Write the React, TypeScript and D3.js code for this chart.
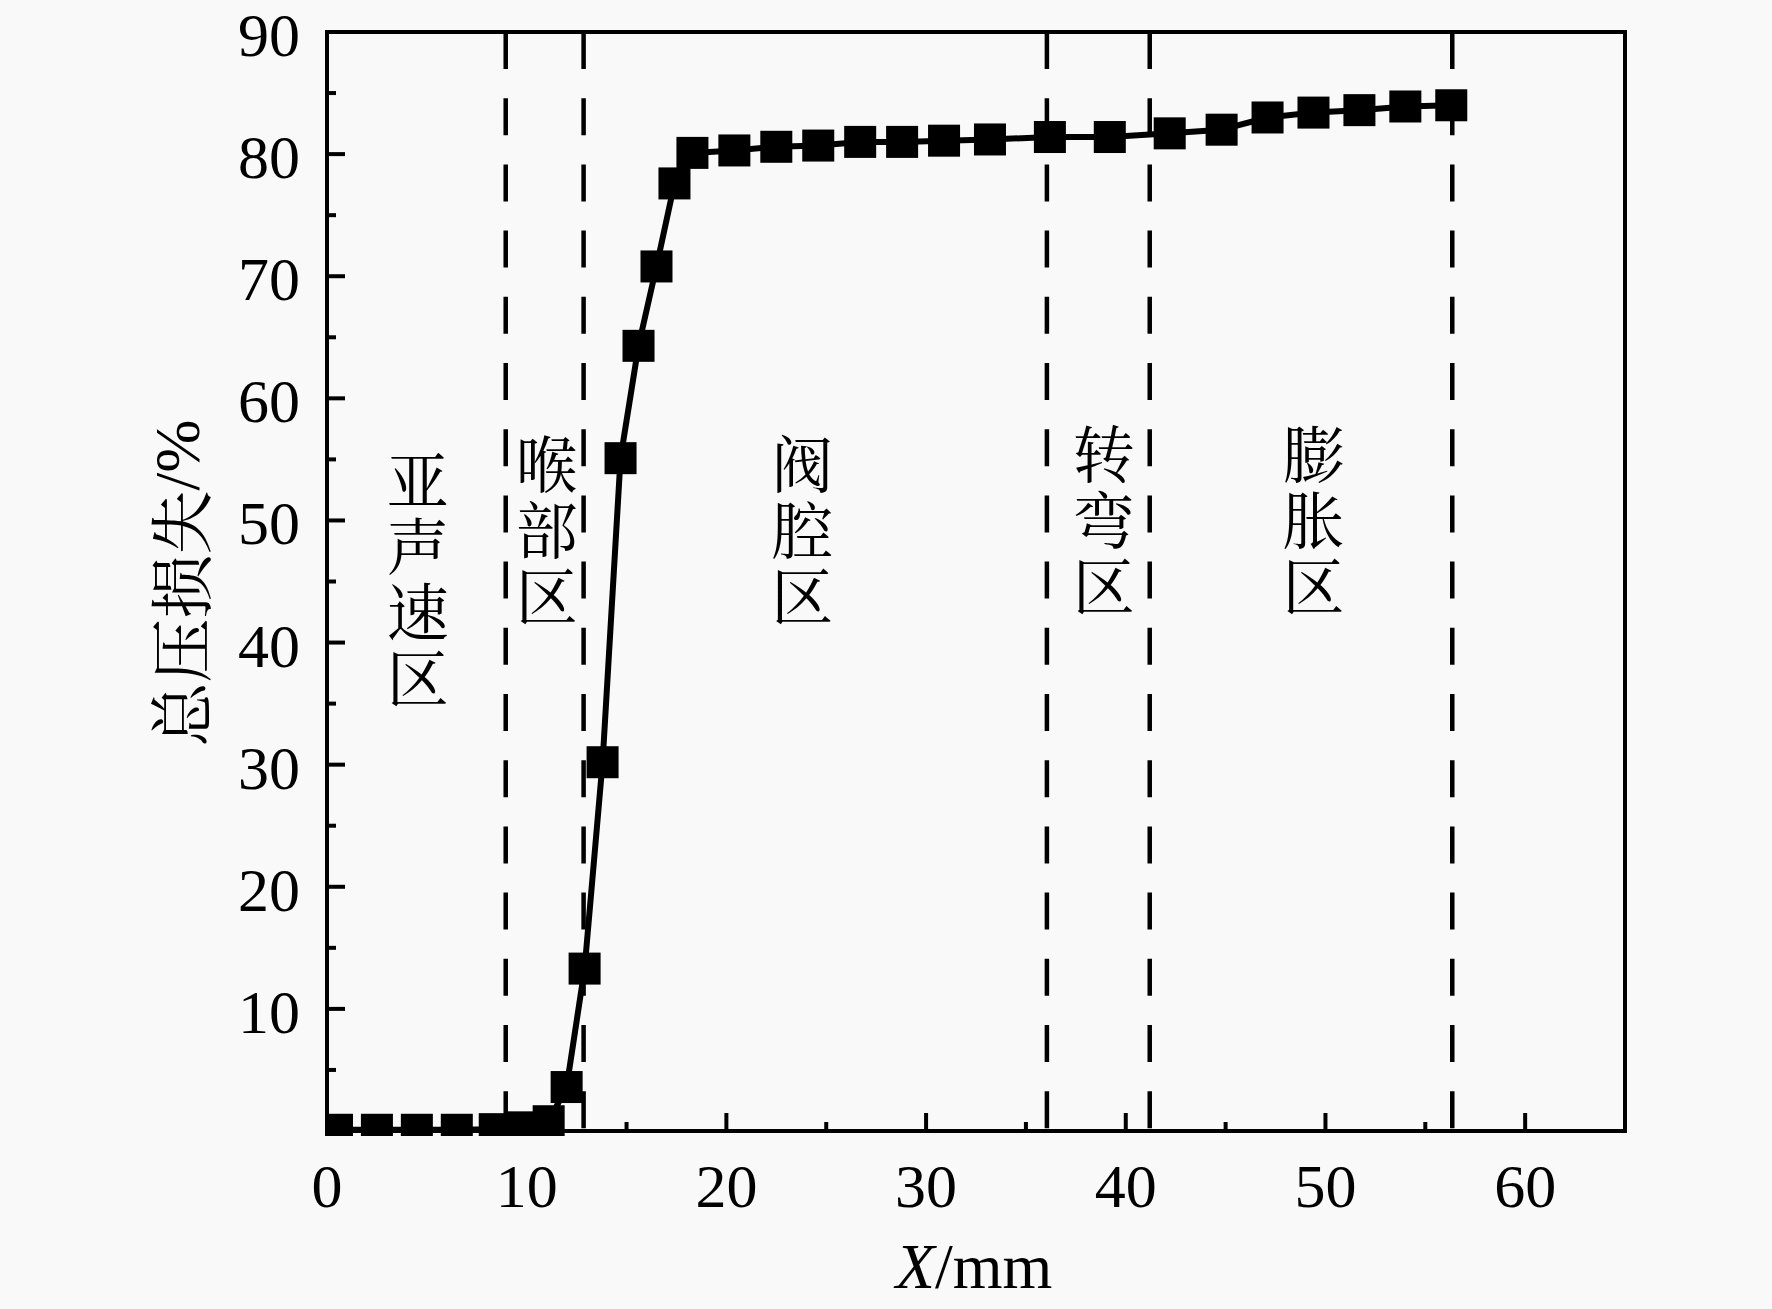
import * as d3 from "d3"

// total pressure loss along the flow path
const X_VALUES = [
  0.5, 2.5, 4.5, 6.5, 8.4, 9.8, 11.1, 12.0, 12.9, 13.8, 14.7, 15.6, 16.5, 17.4,
  18.3, 20.4, 22.5, 24.6, 26.7, 28.8, 30.9, 33.2, 36.2, 39.2, 42.2, 44.8, 47.1,
  49.4, 51.7, 54.0, 56.3,
]
const Y_VALUES = [
  0.1, 0.1, 0.1, 0.1, 0.15, 0.3, 0.8, 3.6, 13.3, 30.2, 55.1, 64.3, 70.8, 77.6,
  80.1, 80.3, 80.6, 80.7, 81.0, 81.0, 81.1, 81.2, 81.4, 81.4, 81.7, 82.0, 83.0,
  83.4, 83.6, 83.9, 84.0,
]
const BOUNDARIES = [8.95, 12.85, 36.05, 41.2, 56.35]
const X_TICKS = [0, 10, 20, 30, 40, 50, 60]
const X_MINOR = [5, 15, 25, 35, 45, 55]
const Y_TICKS = [10, 20, 30, 40, 50, 60, 70, 80, 90]
const Y_MINOR = [5, 15, 25, 35, 45, 55, 65, 75, 85]
const REGION_TEXT = ["亚声速区", "喉部区", "阀腔区", "转弯区", "膨胀区"]
const REGION_X = [4.55, 11.0, 23.8, 38.9, 49.4]
const REGION_Y = [53.3, 54.6, 54.6, 55.4, 55.4]

const W = 1772
const H = 1309
const SERIF = "'Liberation Serif', 'Times New Roman', serif"
const CJK = "'Noto Serif CJK SC', 'Noto Sans CJK SC', sans-serif"

export default function App() {
  const left = 327
  const right = 1625
  const top = 32
  const bottom = 1131

  const x = d3.scaleLinear().domain([0, 65]).range([left, right])
  const y = d3.scaleLinear().domain([0, 90]).range([bottom, top])

  const pts = X_VALUES.map((v, i) => [v, Y_VALUES[i]] as [number, number])
  const line = d3
    .line<[number, number]>()
    .x((d) => x(d[0]))
    .y((d) => y(d[1]))

  const m = 32
  const fs = 62

  return (
    <div style={{ position: "absolute", left: 0, top: 0 }}>
      <svg width={W} height={H} style={{ display: "block", background: "#f9f9f9" }}>
        <defs>
          <clipPath id="plot">
            <rect x={left - 2} y={top - 2} width={right - left + 4} height={bottom - top + 7} />
          </clipPath>
        </defs>

        {/* region boundaries */}
        {BOUNDARIES.map((b) => (
          <line
            key={b}
            x1={x(b)}
            x2={x(b)}
            y1={top}
            y2={bottom}
            stroke="#000"
            strokeWidth={4.5}
            strokeDasharray="37 29.2"
          />
        ))}

        {/* ticks, inward */}
        {Y_TICKS.map((t) => (
          <line key={"y" + t} x1={left} x2={left + 18} y1={y(t)} y2={y(t)} stroke="#000" strokeWidth={4} />
        ))}
        {Y_MINOR.map((t) => (
          <line key={"ym" + t} x1={left} x2={left + 9} y1={y(t)} y2={y(t)} stroke="#000" strokeWidth={4} />
        ))}
        {X_TICKS.map((t) => (
          <line key={"x" + t} x1={x(t)} x2={x(t)} y1={bottom} y2={bottom - 18} stroke="#000" strokeWidth={4} />
        ))}
        {X_MINOR.map((t) => (
          <line key={"xm" + t} x1={x(t)} x2={x(t)} y1={bottom} y2={bottom - 9} stroke="#000" strokeWidth={4} />
        ))}

        <g clipPath="url(#plot)">
          <path d={line(pts) ?? ""} fill="none" stroke="#000" strokeWidth={6} strokeLinejoin="round" />
          {pts.map((p, i) => (
            <rect key={i} x={x(p[0]) - m / 2} y={y(p[1]) - m / 2} width={m} height={m} fill="#000" />
          ))}
        </g>

        <rect x={left} y={top} width={right - left} height={bottom - top} fill="none" stroke="#000" strokeWidth={4} />

        {/* tick labels */}
        <g fontFamily={SERIF} fontSize={62} fill="#000">
          {Y_TICKS.map((t) => (
            <text key={t} x={left - 27} y={y(t) + 24} textAnchor="end">
              {t}
            </text>
          ))}
          {X_TICKS.map((t) => (
            <text key={t} x={x(t)} y={1207} textAnchor="middle">
              {t}
            </text>
          ))}
        </g>

        {/* region labels, vertical */}
        <g fontFamily={CJK} fontSize={fs} fill="#000">
          {REGION_TEXT.map((s, i) => (
            <text
              key={s}
              x={x(REGION_X[i])}
              y={y(REGION_Y[i]) - fs / 2}
              style={{ writingMode: "vertical-rl", letterSpacing: "4px" }}
            >
              {s}
            </text>
          ))}
        </g>

        {/* axis titles */}
        <text
          transform="translate(177,583) rotate(-90)"
          textAnchor="middle"
          dominantBaseline="central"
          fontSize={64}
          fill="#000"
        >
          <tspan fontFamily={CJK}>总压损失</tspan>
          <tspan fontFamily={SERIF}>/%</tspan>
        </text>
        <text x={974} y={1288} textAnchor="middle" fontFamily={SERIF} fontSize={64} fill="#000">
          <tspan fontStyle="italic">X</tspan>/mm
        </text>
      </svg>
    </div>
  )
}
